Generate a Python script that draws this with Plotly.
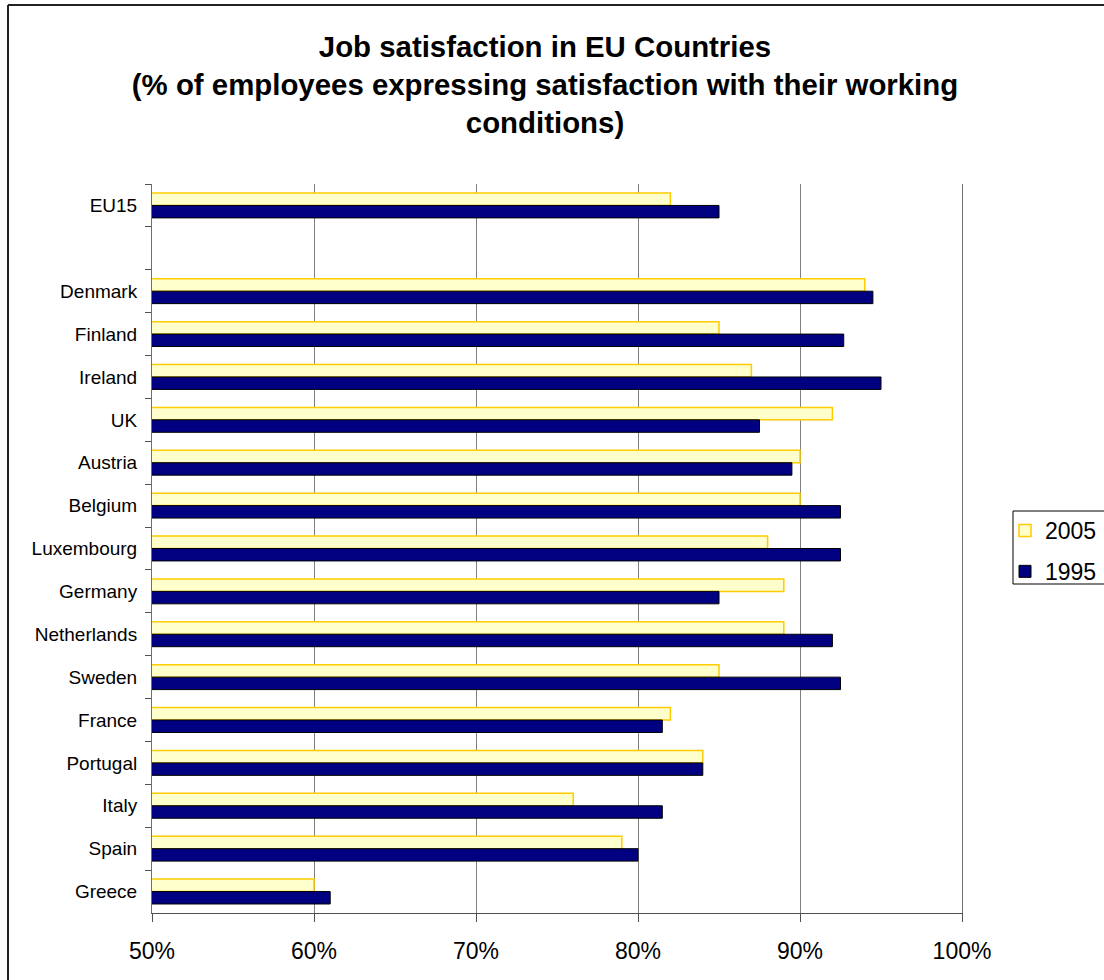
import plotly.graph_objects as go

# Categories (top to bottom); " " is the empty separator row
categories = ["EU15", " ", "Denmark", "Finland", "Ireland", "UK", "Austria", "Belgium",
              "Luxembourg", "Germany", "Netherlands", "Sweden", "France", "Portugal",
              "Italy", "Spain", "Greece"]
values_2005 = [82, None, 94, 85, 87, 92, 90, 90, 88, 89, 89, 85, 82, 84, 76, 79, 60]
values_1995 = [85, None, 94.5, 92.7, 95, 87.5, 89.5, 92.5, 92.5, 85, 92, 92.5, 81.5, 84, 81.5, 80, 61]
x_ticks = [50, 60, 70, 80, 90, 100]
x_tick_labels = ["50%", "60%", "70%", "80%", "90%", "100%"]

FONT = "Liberation Sans, Arial, sans-serif"
W, H = 1104, 980
L, R, T, B = 152, 142, 184, 67
pw, ph = W - L - R, H - T - B

def px_x(p):
    return (p - L) / pw

def px_y(p):
    return (T + ph - p) / ph

fig = go.Figure()
fig.add_trace(go.Bar(
    y=categories, x=values_2005, orientation="h", name="2005", legendgroup="a",
    marker=dict(color="#FFFFCC", line=dict(color="#FFCC00", width=1.5)),
))
fig.add_trace(go.Bar(
    y=categories, x=values_1995, orientation="h", name="1995", legendgroup="b",
    marker=dict(color="#000080", line=dict(color="#000000", width=1)),
))

fig.update_layout(
    width=W, height=H, autosize=False,
    margin=dict(l=L, r=R, t=T, b=B, autoexpand=False),
    paper_bgcolor="white", plot_bgcolor="white",
    barmode="group", bargap=0.42, bargroupgap=0,
    font=dict(family=FONT, color="black"),
    title=dict(
        text="Job satisfaction in EU Countries<br>(% of employees expressing satisfaction with their working<br>conditions)",
        x=545 / W, xanchor="center", xref="container",
        y=1 - 57 / H, yanchor="top", yref="container",
        font=dict(family=FONT, size=29.4, color="black", weight="bold"),
    ),
    legend=dict(
        x=px_x(1005), xanchor="left",
        y=px_y(551), yanchor="middle",
        borderwidth=0, bgcolor="rgba(0,0,0,0)",
        font=dict(family=FONT, size=23, color="black"),
        traceorder="grouped", tracegroupgap=8,
    ),
    showlegend=True,
)

fig.update_xaxes(
    range=[50, 100], tickmode="array", tickvals=x_ticks, ticktext=x_tick_labels,
    showgrid=True, gridcolor="#808080", gridwidth=1,
    showline=True, linecolor="#505050", linewidth=1,
    ticks="outside", ticklen=8, tickcolor="#505050",
    tickfont=dict(family=FONT, size=23, color="black"),
    ticklabelstandoff=9, zeroline=False, fixedrange=True,
)
fig.update_yaxes(
    type="category", categoryorder="array", categoryarray=categories,
    autorange="reversed", tickson="boundaries",
    showgrid=False, showline=True, mirror=True, linecolor="#707070", linewidth=1,
    ticks="outside", ticklen=6, tickcolor="#505050",
    tickfont=dict(family=FONT, size=19, color="black"),
    ticklabelstandoff=10, zeroline=False, fixedrange=True,
)

# outer chart border: only its left and top edges are visible in the reference
fig.add_shape(type="line", xref="paper", yref="paper",
              x0=px_x(8), x1=px_x(8), y0=px_y(1000), y1=px_y(5),
              line=dict(color="#222222", width=2), layer="above")
fig.add_shape(type="line", xref="paper", yref="paper",
              x0=px_x(8), x1=px_x(1110), y0=px_y(5), y1=px_y(5),
              line=dict(color="#222222", width=2), layer="above")
# legend frame (cropped on the right in the reference)
fig.add_shape(type="line", xref="paper", yref="paper",
              x0=px_x(1013), x1=px_x(1110), y0=px_y(511), y1=px_y(511),
              line=dict(color="#000000", width=1), layer="above")
fig.add_shape(type="line", xref="paper", yref="paper",
              x0=px_x(1013), x1=px_x(1110), y0=px_y(584), y1=px_y(584),
              line=dict(color="#000000", width=1), layer="above")
fig.add_shape(type="line", xref="paper", yref="paper",
              x0=px_x(1013), x1=px_x(1013), y0=px_y(584), y1=px_y(511),
              line=dict(color="#000000", width=1), layer="above")

fig.write_html(
    "out.html", config={"displayModeBar": False},
    post_script=(
        "document.documentElement.style.overflow='hidden';"
        "document.body.style.margin='0';document.body.style.padding='0';"
        "document.body.style.overflow='hidden';"
        "document.body.style.border='none';"
    ),
)
